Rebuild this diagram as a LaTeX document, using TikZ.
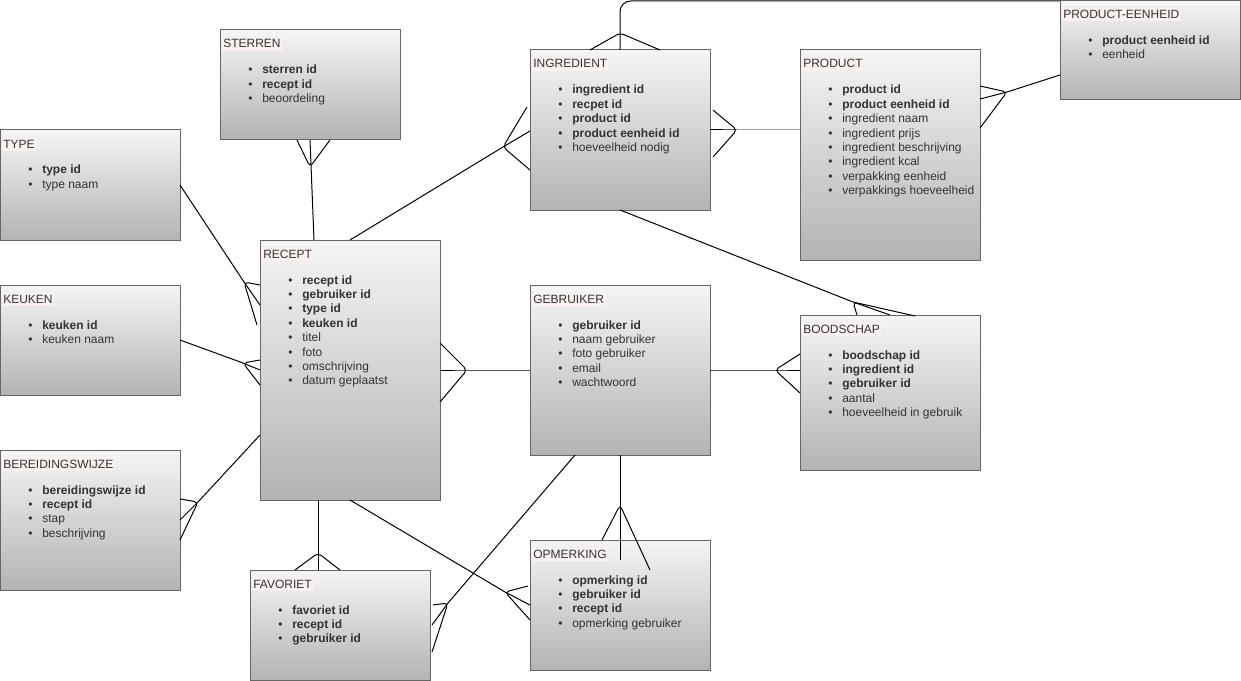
\documentclass[tikz,border=0pt]{standalone}
\usepackage{fontspec}
\setmainfont{Liberation Sans}
\usetikzlibrary{calc}
\definecolor{gtop}{HTML}{F5F5F5}
\definecolor{gbot}{HTML}{B3B3B3}
\definecolor{boxline}{HTML}{666666}
\definecolor{txt}{HTML}{333333}
\definecolor{ttlbg}{HTML}{FBF1F1}
\tikzset{
 ent/.style={draw=boxline, line width=0.75pt, top color=gtop, bottom color=gbot, anchor=north west, inner sep=0pt, outer sep=0pt},
 ttl/.style={fill=ttlbg, text=txt, font=\fontsize{9}{10.8}\selectfont, inner xsep=0.75pt, inner ysep=0pt, text height=7.5pt, text depth=2.25pt, anchor=base west},
 itm/.style={text=txt, font=\fontsize{9}{10.8}\selectfont, inner sep=0pt, anchor=base west},
 rel/.style={draw=black, line width=0.75pt, line join=round},
 foot/.style={rel, rounded corners=3pt},
}
\newcommand\mkentity[7]{%
 \node[ent, minimum width=#4*0.75pt, minimum height=#5*0.75pt] (#1) at (#2,#3) {};
 \node[ttl] (#1-t) at (#2+2,#3+18) {#6};
 \foreach \itemtext [count=\n] in {#7} {\node[itm] (#1-\n) at (#2+28,#3+29.6+14.4*\n) {\makebox[10.5pt][l]{\textbullet}\itemtext};}
}
\begin{document}
\begin{tikzpicture}[x=0.75pt,y=-0.75pt]
\useasboundingbox (0,0) rectangle (1241,681);
% entities
\mkentity{sterren}{220}{30}{180}{110}{STERREN}{\textbf{sterren id},\textbf{recept id},beoordeling}
\mkentity{type}{0}{130}{180}{110}{TYPE}{\textbf{type id},type naam}
\mkentity{keuken}{0}{285}{180}{110}{KEUKEN}{\textbf{keuken id},keuken naam}
\mkentity{bereiding}{0}{450}{180}{140}{BEREIDINGSWIJZE}{\textbf{bereidingswijze id},\textbf{recept id},stap,beschrijving}
\mkentity{recept}{260}{240}{180}{260}{RECEPT}{\textbf{recept id},\textbf{gebruiker id},\textbf{type id},\textbf{keuken id},titel,foto,omschrijving,datum geplaatst}
\mkentity{favoriet}{250}{570}{180}{110}{FAVORIET}{\textbf{favoriet id},\textbf{recept id},\textbf{gebruiker id}}
\mkentity{ingredient}{530}{50}{180}{160}{INGREDIENT}{\textbf{ingredient id},\textbf{recpet id},\textbf{product id},\textbf{product eenheid id},hoeveelheid nodig}
\mkentity{gebruiker}{530}{285}{180}{170}{GEBRUIKER}{\textbf{gebruiker id},naam gebruiker,foto gebruiker,email,wachtwoord}
\mkentity{opmerking}{530}{540}{180}{130}{OPMERKING}{\textbf{opmerking id},\textbf{gebruiker id},\textbf{recept id},opmerking gebruiker}
\mkentity{product}{800}{50}{180}{210}{PRODUCT}{\textbf{product id},\textbf{product eenheid id},ingredient naam,ingredient prijs,ingredient beschrijving,ingredient kcal,verpakking eenheid,verpakkings hoeveelheid}
\mkentity{boodschap}{800}{315}{180}{155}{BOODSCHAP}{\textbf{boodschap id},\textbf{ingredient id},\textbf{gebruiker id},aantal,hoeveelheid in gebruik}
\mkentity{peenheid}{1060}{0.5}{180}{99.5}{PRODUCT-EENHEID}{\textbf{product eenheid id},eenheid}
% connector points
\coordinate (c1e) at (314,240);  \coordinate (c1t) at (310,167);
\coordinate (c2t) at (244,282);  \coordinate (c2m) at (260,305);
\coordinate (c3t) at (243,363);  \coordinate (c3m) at (260,370);
\coordinate (c4s) at (260,435);  \coordinate (c4t) at (198,502); \coordinate (c4m) at (180,520);
\coordinate (c5t) at (503,147);  \coordinate (c5m) at (530,131);
\coordinate (c6e) at (800,130);  \coordinate (c6t) at (737,130); \coordinate (c6m) at (710,130);
\coordinate (c7c) at (620,1);    \coordinate (c7e) at (1060,1);  \coordinate (c7t) at (620,33);
\coordinate (c8s) at (1060,75);  \coordinate (c8t) at (1007,92); \coordinate (c8m) at (980,99);
\coordinate (c9t) at (853,302);  \coordinate (c9m) at (890,315);
\coordinate (c10t) at (775,370); \coordinate (c10m) at (800,370);
\coordinate (c11t) at (467,370); \coordinate (c11m) at (440,370);
\coordinate (c12e) at (620,560); \coordinate (c12t) at (620,505);
\coordinate (c13s) at (575,455); \coordinate (c13t) at (448,603); \coordinate (c13m) at (432,625);
\coordinate (c14t) at (505,592); \coordinate (c14m) at (530,605);
\coordinate (c15s) at (318,500); \coordinate (c15e) at (318,570); \coordinate (c15t) at (318,553);
% STERREN - RECEPT
\draw[rel] (sterren.south) -- (c1e);
\draw[foot] (297,140) -- (c1t) -- (330,140);
% TYPE - RECEPT
\draw[rel] (type.east) -- (c2t) -- (c2m);
\draw[foot] (260,285) -- (c2t) -- (257,325);
% KEUKEN - RECEPT
\draw[rel] (keuken.east) -- (c3t) -- (c3m);
\draw[foot] (260,360) -- (c3t) -- (260,385);
% BEREIDINGSWIJZE - RECEPT
\draw[rel] (c4s) -- (c4t) -- (c4m);
\draw[foot] (180,499) -- (c4t) -- (180,540);
% RECEPT - INGREDIENT
\draw[rel] (recept.north) -- (c5t) -- (c5m);
\draw[foot] (527,107) -- (c5t) -- (530,170);
% INGREDIENT - PRODUCT
\draw[rel] (c6e) -- (c6t) -- (c6m);
\draw[foot] (713,110) -- (c6t) -- (713,157);
% INGREDIENT - PRODUCT-EENHEID
\draw[rel, rounded corners=8pt] (ingredient.north) -- (c7c) -- (c7e);
\draw[foot] (590,50) -- (c7t) -- (660,50);
% PRODUCT - PRODUCT-EENHEID
\draw[rel] (c8s) -- (c8t) -- (c8m);
\draw[foot] (980,86) -- (c8t) -- (980,128);
% INGREDIENT - BOODSCHAP
\draw[rel] (ingredient.south) -- (c9t) -- (c9m);
\draw[foot] (857,315) -- (c9t) -- (915,316);
% GEBRUIKER - BOODSCHAP
\draw[rel] (gebruiker.east) -- (c10t) -- (c10m);
\draw[foot] (800,354) -- (c10t) -- (800,393);
% RECEPT - GEBRUIKER
\draw[rel] (gebruiker.west) -- (c11t) -- (c11m);
\draw[foot] (440,343) -- (c11t) -- (440,402);
% GEBRUIKER - OPMERKING
\draw[rel] (gebruiker.south) -- (c12e);
\draw[foot] (602,540) -- (c12t) -- (650,570);
% GEBRUIKER - FAVORIET
\draw[rel] (c13s) -- (c13t) -- (c13m);
\draw[foot] (433,605) -- (c13t) -- (432,652);
% RECEPT - OPMERKING
\draw[rel] (recept.south) -- (c14t) -- (c14m);
\draw[foot] (528,586) -- (c14t) -- (530,620);
% RECEPT - FAVORIET
\draw[rel] (c15s) -- (c15e);
\draw[foot] (295,570) -- (c15t) -- (340,570);
\end{tikzpicture}
\end{document}
